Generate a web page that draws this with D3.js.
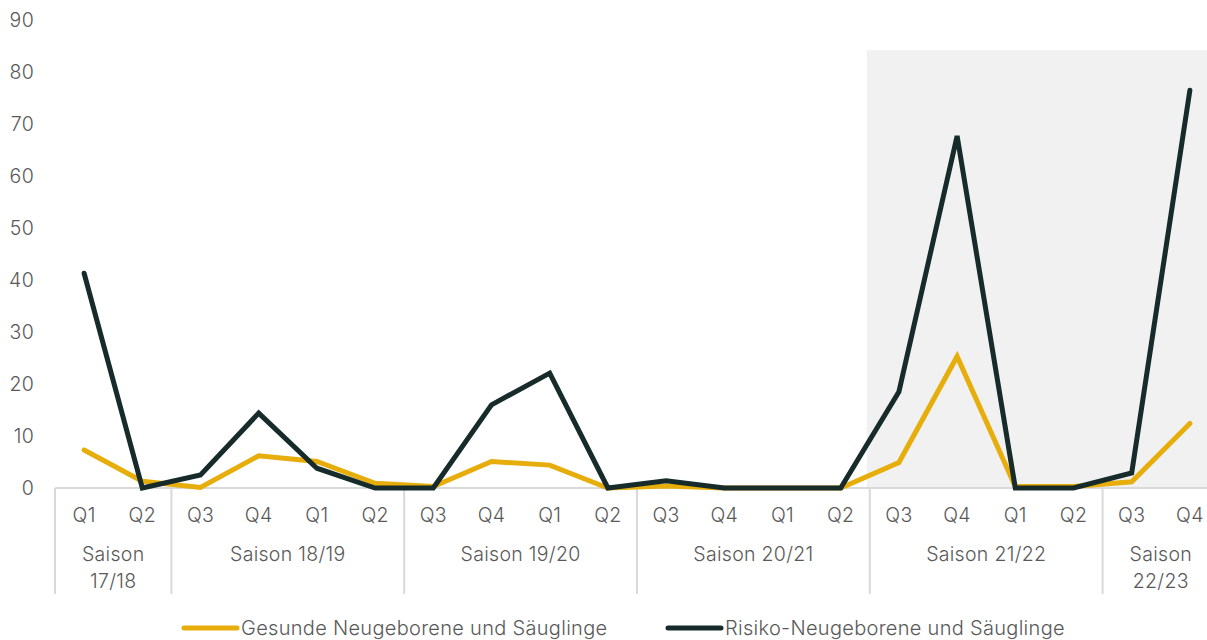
<!DOCTYPE html>
<html>
<head>
<meta charset="utf-8">
<script src="https://cdn.jsdelivr.net/npm/d3@7/dist/d3.min.js"></script>
<style>
	body { margin: 0; background: #fff; }
	svg text { font-family: Inter, "Noto Sans", sans-serif; fill: #595959; font-weight: 300; letter-spacing: 0.3px; }
</style>
</head>
<body>
<script>
	var quarters = ["Q1","Q2","Q3","Q4","Q1","Q2","Q3","Q4","Q1","Q2",
					"Q3","Q4","Q1","Q2","Q3","Q4","Q1","Q2","Q3","Q4"];
	var seasons = [
		["Saison", "17/18"], ["Saison 18/19"], ["Saison 19/20"],
		["Saison 20/21"], ["Saison 21/22"], ["Saison", "22/23"]
	];
	var seasonSizes = [2, 4, 4, 4, 4, 2];
	var gesunde = [7.3, 1.3, 0.1, 6.2, 5.1, 0.9, 0.3, 5.1, 4.4, 0,
				   0.4, 0, 0, 0, 4.9, 25.3, 0.3, 0.3, 1.2, 12.4];
	var risiko = [41.3, 0, 2.5, 14.4, 3.8, 0, 0, 16, 22.1, 0,
				  1.4, 0, 0, 0, 18.5, 67.7, 0, 0, 2.9, 76.5];
	var yTicks = [0, 10, 20, 30, 40, 50, 60, 70, 80, 90];
	var highlightFrom = 14;   // Saison 21/22 onwards is shaded
	var highlightTop = 84.2;
	var seriesNames = ["Gesunde Neugeborene und Säuglinge", "Risiko-Neugeborene und Säuglinge"];
	var colors = ["#e6ad0b", "#172b2a"];

	var w = 1207;
	var h = 640;
	var left = 55;
	var right = 1219;
	var y0 = 488;
	var y90 = 20;

	var svg = d3.select("body").append("svg")
		.attr("width", w)
		.attr("height", h);

	var x = d3.scaleBand()
		.domain(d3.range(quarters.length))
		.range([left, right])
		.padding(0);

	var y = d3.scaleLinear()
		.domain([0, 90])
		.range([y0, y90]);

	// shaded area
	svg.append("rect")
		.attr("x", x(highlightFrom) - 3)
		.attr("y", y(highlightTop))
		.attr("width", right - x(highlightFrom) + 3)
		.attr("height", y(0) - y(highlightTop) - 1)
		.attr("fill", "#f1f1f1");

	// y axis labels
	var yAxis = d3.axisLeft(y)
		.tickValues(yTicks)
		.tickSize(0)
		.tickPadding(0);

	var gy = svg.append("g")
		.attr("transform", "translate(34,0)")
		.call(yAxis);
	gy.select(".domain").remove();
	gy.selectAll("text")
		.style("font-size", "19.5px")
		.attr("dy", "0.35em");

	// x axis with quarter labels
	var xAxis = d3.axisBottom(x)
		.tickFormat(function(d) { return quarters[d]; })
		.tickSize(0)
		.tickPadding(0);

	var gx = svg.append("g")
		.attr("transform", "translate(0," + y0 + ")")
		.call(xAxis);
	gx.select(".domain").remove();
	gx.selectAll("text")
		.attr("y", 27)
		.attr("dy", "0.35em")
		.style("font-size", "19.5px");

	svg.append("line")
		.attr("x1", left)
		.attr("x2", w)
		.attr("y1", y0)
		.attr("y2", y0)
		.attr("stroke", "#d9d9d9")
		.attr("stroke-width", 2);

	// season separators and labels
	var starts = [0];
	seasonSizes.forEach(function(s, i) { starts.push(starts[i] + s); });

	svg.selectAll("line.sep")
		.data(starts.slice(0, seasonSizes.length))
		.enter()
		.append("line")
		.attr("class", "sep")
		.attr("x1", function(d) { return x(d); })
		.attr("x2", function(d) { return x(d); })
		.attr("y1", y0)
		.attr("y2", 594)
		.attr("stroke", "#d9d9d9")
		.attr("stroke-width", 2);

	svg.selectAll("text.season")
		.data(seasons)
		.enter()
		.append("text")
		.attr("class", "season")
		.attr("text-anchor", "middle")
		.attr("x", function(d, i) {
			return (x(starts[i]) + x(starts[i + 1] - 1) + x.bandwidth()) / 2;
		})
		.attr("y", 561)
		.style("font-size", "19.5px")
		.each(function(d) {
			var t = d3.select(this);
			d.forEach(function(line, j) {
				t.append("tspan")
					.attr("x", t.attr("x"))
					.attr("dy", j == 0 ? 0 : 27)
					.text(line);
			});
		});

	// lines
	var line = d3.line()
		.x(function(d, i) { return x(i) + x.bandwidth() / 2; })
		.y(function(d) { return y(d); });

	svg.selectAll("path.series")
		.data([gesunde, risiko])
		.enter()
		.append("path")
		.attr("class", "series")
		.attr("d", line)
		.attr("fill", "none")
		.attr("stroke", function(d, i) { return colors[i]; })
		.attr("stroke-width", 5)
		.attr("stroke-linejoin", "miter")
		.attr("stroke-linecap", "round");

	// legend
	var legendX = [184, 668];
	var lg = svg.selectAll("g.legend")
		.data(seriesNames)
		.enter()
		.append("g")
		.attr("class", "legend")
		.attr("transform", function(d, i) { return "translate(" + legendX[i] + ",628)"; });

	lg.append("line")
		.attr("x1", 0)
		.attr("x2", 53)
		.attr("stroke", function(d, i) { return colors[i]; })
		.attr("stroke-width", 5)
		.attr("stroke-linecap", "round");

	lg.append("text")
		.attr("x", 57)
		.attr("dy", "0.35em")
		.style("font-size", "20px")
		.text(function(d) { return d; });
</script>
</body>
</html>
